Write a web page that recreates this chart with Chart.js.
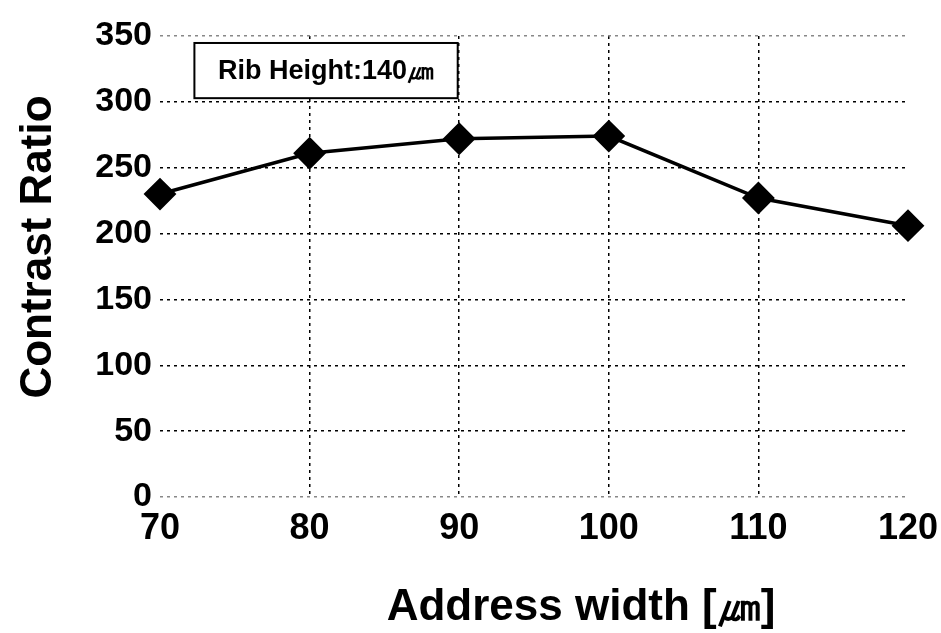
<!DOCTYPE html>
<html>
<head>
<meta charset="utf-8">
<script src="https://cdn.jsdelivr.net/npm/chart.js@4"></script>
<style>
  html, body { margin: 0; padding: 0; background: #fff; }
  #wrap { width: 941px; height: 633px; }
</style>
</head>
<body>
<div id="wrap"><canvas id="myChart" width="941" height="633"></canvas></div>
<script>
// data
const addressWidth = [70, 80, 90, 100, 110, 120];
const contrastRatio = [230, 261, 272, 274, 227, 206];
const xTicks = [70, 80, 90, 100, 110, 120];
const yTicks = [0, 50, 100, 150, 200, 250, 300, 350];
const noteText = "Rib Height:140\u339B";
const xTitle = "Address width [\u339B]";
const yTitle = "Contrast Ratio";

const FONT = "'Liberation Sans', Arial, sans-serif";

// note box in the upper left, placed with the scales
const notePlugin = {
    id: 'note',
    afterDraw: (chart) => {
        const { ctx, scales } = chart;
        const x1 = scales.x.getPixelForValue(72.3);
        const x2 = scales.x.getPixelForValue(89.9);
        const y1 = scales.y.getPixelForValue(344.7);
        const y2 = scales.y.getPixelForValue(302.8);
        ctx.save();
        ctx.fillStyle = '#fff';
        ctx.fillRect(x1, y1, x2 - x1, y2 - y1);
        ctx.strokeStyle = '#000';
        ctx.lineWidth = 2;
        ctx.strokeRect(x1, y1, x2 - x1, y2 - y1);
        ctx.fillStyle = '#000';
        ctx.font = `bold 27px ${FONT}`;
        ctx.textAlign = 'center';
        ctx.textBaseline = 'middle';
        ctx.fillText(noteText, (x1 + x2) / 2, (y1 + y2) / 2 + 1);
        ctx.restore();
    }
};

// axis titles, placed like in the original figure (a bit off the plot centre)
const titlePlugin = {
    id: 'titles',
    afterDraw: (chart) => {
        const c = chart.ctx;
        c.save();
        c.fillStyle = '#000';
        c.font = `bold 44px ${FONT}`;
        c.textAlign = 'center';
        c.textBaseline = 'alphabetic';
        c.fillText(xTitle, 581, 620);
        c.translate(51, 247);
        c.rotate(-Math.PI / 2);
        c.font = `bold 44px ${FONT}`;
        c.fillText(yTitle, 0, 0);
        c.restore();
    }
};

const ctx = document.getElementById('myChart');
const myChart = new Chart(ctx, {
    type: 'line',
    data: {
        datasets: [{
            data: addressWidth.map((w, i) => ({ x: w, y: contrastRatio[i] })),
            borderColor: '#000',
            backgroundColor: '#000',
            borderWidth: 3.5,
            pointStyle: 'rectRot',
            pointRadius: 15,
            pointBorderWidth: 2,
            pointBorderColor: '#000',
            pointBackgroundColor: '#000',
            tension: 0,
            fill: false,
            clip: false
        }]
    },
    options: {
        responsive: false,
        animation: false,
        layout: { padding: { top: 36, right: 33, bottom: 0, left: 0 } },
        plugins: {
            legend: { display: false },
            tooltip: { enabled: false }
        },
        scales: {
            x: {
                type: 'linear',
                min: 70,
                max: 120,
                afterBuildTicks: (axis) => { axis.ticks = xTicks.map(v => ({ value: v })); },
                afterFit: (axis) => {
                    axis.height = 136;
                    axis.paddingLeft = 0;
                    axis.paddingRight = 0;
                },
                border: { display: false, dash: [3, 4] },
                grid: {
                    drawTicks: false,
                    color: (c) => (c.tick && (c.tick.value === 70 || c.tick.value === 120)) ? 'rgba(0,0,0,0)' : '#000',
                    lineWidth: 1.5
                },
                ticks: {
                    color: '#000',
                    padding: 10,
                    maxRotation: 0,
                    font: { family: FONT, size: 36, weight: 'bold' }
                }
            },
            y: {
                min: 0,
                max: 350,
                afterBuildTicks: (axis) => { axis.ticks = yTicks.map(v => ({ value: v })); },
                afterFit: (axis) => {
                    axis.width = 160;
                    axis.paddingTop = 0;
                    axis.paddingBottom = 0;
                },
                border: { display: false, dash: [3, 4] },
                grid: {
                    drawTicks: false,
                    color: (c) => (c.tick && (c.tick.value === 0 || c.tick.value === 350)) ? '#888' : '#000',
                    lineWidth: 1.5
                },
                ticks: {
                    color: '#000',
                    padding: 8,
                    font: { family: FONT, size: 34, weight: 'bold' }
                }
            }
        }
    },
    plugins: [notePlugin, titlePlugin]
});
</script>
</body>
</html>
